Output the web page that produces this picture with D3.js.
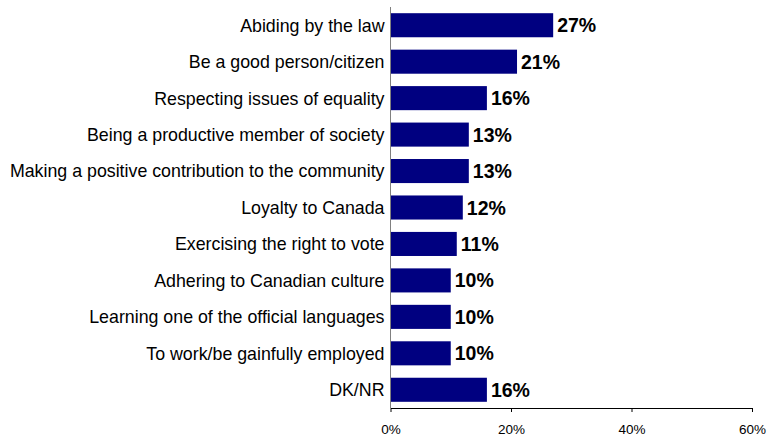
<!DOCTYPE html>
<html>
<head>
<meta charset="utf-8">
<script src="https://cdn.jsdelivr.net/npm/d3@7"></script>
<style>
  html, body { margin: 0; padding: 0; background: #fff; }
  svg { display: block; font-family: "Liberation Sans", Arial, sans-serif; }
</style>
</head>
<body>
<svg id="chart" width="767" height="436"></svg>
<script>
const categories = [
  "Abiding by the law",
  "Be a good person/citizen",
  "Respecting issues of equality",
  "Being a productive member of society",
  "Making a positive contribution to the community",
  "Loyalty to Canada",
  "Exercising the right to vote",
  "Adhering to Canadian culture",
  "Learning one of the official languages",
  "To work/be gainfully employed",
  "DK/NR"
];
const values = [27, 21, 16, 13, 13, 12, 11, 10, 10, 10, 16];
const tickValues = [0, 20, 40, 60];

(function () {
  const svg = d3.select("#chart");
  const plotLeft = 390.5, plotRight = 752, plotTop = 7, plotBottom = 408;

  const x = d3.scaleLinear().domain([0, 60]).range([plotLeft, plotRight]);
  const y = d3.scaleBand().domain(categories).range([plotTop, plotBottom])
    .paddingInner(0.34).paddingOuter(0.17);

  // bars
  svg.selectAll("rect.bar").data(categories).join("rect")
    .attr("class", "bar")
    .attr("x", x(0))
    .attr("y", d => y(d))
    .attr("width", (d, i) => x(values[i]) - x(0))
    .attr("height", y.bandwidth())
    .attr("fill", "#000080");

  // value labels
  svg.selectAll("text.val").data(categories).join("text")
    .attr("class", "val")
    .attr("x", (d, i) => x(values[i]) + 4)
    .attr("y", d => y(d) + y.bandwidth() / 2)
    .attr("dy", "0.36em")
    .attr("font-size", 19.5)
    .attr("font-weight", "bold")
    .attr("fill", "#000")
    .text((d, i) => values[i] + "%");

  // category labels
  svg.selectAll("text.cat").data(categories).join("text")
    .attr("class", "cat")
    .attr("x", plotLeft - 6)
    .attr("y", d => y(d) + y.bandwidth() / 2)
    .attr("dy", "0.36em")
    .attr("text-anchor", "end")
    .attr("font-size", 17.8)
    .attr("fill", "#000")
    .text(d => d);

  // vertical axis line
  svg.append("line")
    .attr("x1", plotLeft).attr("x2", plotLeft)
    .attr("y1", plotTop).attr("y2", plotBottom)
    .attr("stroke", "#808080").attr("stroke-width", 1);

  // x axis
  const xAxis = d3.axisBottom(x).tickValues(tickValues).tickSize(4).tickSizeOuter(0)
    .tickFormat(d => d + "%");
  const gx = svg.append("g").attr("transform", `translate(0,${plotBottom})`).call(xAxis);
  gx.select(".domain").attr("stroke", "#000");
  gx.selectAll(".tick line").attr("stroke", "#000");
  gx.selectAll(".tick text")
    .attr("font-family", "'Liberation Sans', Arial, sans-serif")
    .attr("font-size", 13.5)
    .attr("fill", "#000")
    .attr("y", 16);
})();
</script>
</body>
</html>
